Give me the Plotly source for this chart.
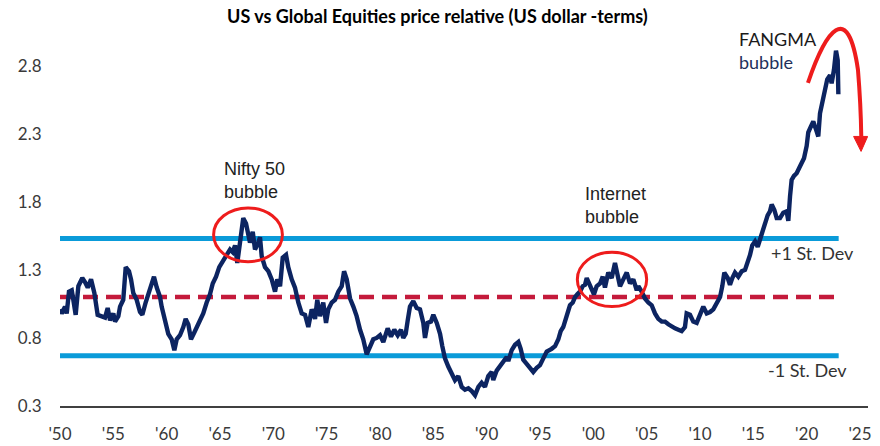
import plotly.graph_objects as go

# ---- data ----
years = [1950.00,1950.16,1950.47,1950.63,1950.84,1951.10,1951.25,1951.47,1951.72,1952.09,1952.34,1952.60,1952.91,
 1953.22,1953.53,1953.91,1954.22,1954.47,1954.69,1955.00,1955.16,1955.47,1955.63,1955.93,1956.09,1956.16,1956.47,
 1956.66,1956.87,1957.19,1957.50,1957.72,1958.03,1958.34,1958.60,1958.81,1959.07,1959.38,1959.53,1959.84,1960.15,
 1960.47,1960.72,1960.94,1961.25,1961.56,1961.78,1962.03,1962.28,1962.59,1962.97,1963.43,1963.75,1964.06,1964.32,
 1964.63,1964.93,1965.31,1965.63,1965.94,1966.19,1966.41,1966.62,1966.81,1967.03,1967.18,1967.44,1967.65,1967.81,
 1968.07,1968.28,1968.59,1968.75,1968.91,1969.22,1969.53,1969.85,1970.16,1970.37,1970.63,1970.88,1971.19,1971.40,
 1971.72,1972.03,1972.34,1972.66,1972.97,1973.28,1973.60,1973.91,1974.12,1974.38,1974.68,1974.94,1975.15,1975.47,
 1975.78,1976.09,1976.41,1976.63,1976.88,1977.19,1977.50,1977.81,1978.13,1978.43,1978.75,1979.06,1979.37,1979.69,
 1980.00,1980.31,1980.47,1980.72,1981.03,1981.34,1981.66,1981.97,1982.18,1982.41,1982.60,1982.81,1983.12,1983.44,
 1983.75,1984.06,1984.22,1984.47,1984.78,1985.00,1985.32,1985.63,1985.84,1986.09,1986.40,1986.72,1987.03,1987.34,
 1987.66,1987.97,1988.28,1988.60,1988.91,1989.22,1989.53,1989.84,1990.15,1990.47,1990.62,1990.94,1991.25,1991.56,
 1991.88,1992.03,1992.35,1992.66,1992.97,1993.19,1993.43,1993.75,1994.06,1994.37,1994.69,1995.00,1995.31,1995.63,
 1996.09,1996.41,1996.72,1996.94,1997.18,1997.44,1997.65,1997.81,1998.07,1998.28,1998.50,1998.75,1999.00,1999.22,
 1999.38,1999.62,1999.85,2000.06,2000.31,2000.63,2000.88,2001.09,2001.40,2001.72,2002.03,2002.34,2002.50,2002.81,
 2003.13,2003.44,2003.75,2004.07,2004.22,2004.53,2004.84,2005.15,2005.47,2005.78,2006.09,2006.41,2006.72,2007.03,
 2007.35,2007.66,2007.97,2008.28,2008.59,2008.75,2009.06,2009.37,2009.69,2010.00,2010.31,2010.63,2010.94,2011.25,
 2011.56,2011.88,2012.09,2012.28,2012.60,2012.81,2013.03,2013.28,2013.59,2013.91,2014.22,2014.47,2014.69,2014.90,
 2015.16,2015.41,2015.63,2015.88,2016.09,2016.34,2016.56,2016.72,2016.97,2017.19,2017.50,2017.81,2018.12,2018.28,
 2018.44,2018.59,2018.81,2019.06,2019.31,2019.53,2019.75,2020.00,2020.15,2020.38,2020.62,2020.88,2021.09,2021.25,
 2021.50,2021.72,2021.93,2022.19,2022.34,2022.56,2022.75,2022.91,2022.97]

relative = [1.01,0.98,1.03,0.98,1.14,1.15,1.08,0.97,1.18,1.24,1.21,1.17,1.23,
 1.13,0.97,0.96,0.95,1.02,0.93,0.98,0.92,0.96,1.03,1.08,1.20,1.32,1.29,
 1.23,1.13,1.08,0.99,0.97,1.06,1.13,1.18,1.25,1.17,1.10,1.03,0.91,0.83,
 0.79,0.71,0.79,0.82,0.88,0.94,0.90,0.79,0.84,0.91,0.98,1.06,1.12,1.20,
 1.25,1.32,1.37,1.42,1.45,1.43,1.48,1.35,1.47,1.58,1.68,1.64,1.57,1.50,
 1.58,1.45,1.50,1.54,1.40,1.32,1.29,1.23,1.14,1.23,1.18,1.39,1.41,1.32,
 1.23,1.17,1.06,0.98,0.97,0.88,1.01,0.94,1.08,0.96,1.06,0.91,1.01,1.06,
 1.08,1.14,1.18,1.29,1.23,1.09,1.03,0.96,0.86,0.79,0.68,0.74,0.79,0.80,
 0.82,0.77,0.81,0.87,0.81,0.86,0.82,0.86,0.80,0.83,0.93,1.03,1.07,1.02,
 1.01,0.91,0.80,0.91,0.92,0.97,0.91,0.83,0.74,0.65,0.59,0.54,0.49,0.52,
 0.44,0.42,0.43,0.41,0.38,0.44,0.47,0.44,0.52,0.55,0.49,0.56,0.59,0.63,
 0.66,0.63,0.71,0.75,0.77,0.72,0.64,0.61,0.58,0.55,0.58,0.60,0.65,0.70,
 0.72,0.74,0.79,0.85,0.88,0.94,0.99,1.04,1.06,1.10,1.12,1.14,1.18,1.19,
 1.24,1.20,1.15,1.12,1.18,1.20,1.25,1.17,1.28,1.24,1.35,1.24,1.18,1.23,
 1.28,1.20,1.23,1.15,1.18,1.14,1.09,1.06,1.04,0.98,0.94,0.92,0.92,0.90,
 0.88,0.87,0.86,0.85,0.88,0.98,0.97,0.92,0.91,0.97,1.03,0.98,0.99,1.01,
 1.06,1.10,1.18,1.28,1.24,1.19,1.24,1.28,1.25,1.29,1.30,1.35,1.41,1.48,
 1.51,1.47,1.53,1.59,1.64,1.70,1.73,1.78,1.74,1.68,1.68,1.72,1.73,1.66,
 1.84,1.96,1.99,2.01,2.05,2.08,2.12,2.21,2.31,2.35,2.39,2.33,2.28,2.45,
 2.55,2.64,2.70,2.73,2.67,2.77,2.91,2.84,2.59]

mean_level = 1.10
plus_1sd = 1.53
minus_1sd = 0.67
band_years = [1950, 2023]

tick_years = [1950, 1955, 1960, 1965, 1970, 1975, 1980, 1985, 1990, 1995, 2000, 2005, 2010, 2015, 2020, 2025]
tick_text = ["'50", "'55", "'60", "'65", "'70", "'75", "'80", "'85", "'90", "'95", "'00", "'05", "'10", "'15", "'20", "'25"]
y_ticks = [0.3, 0.8, 1.3, 1.8, 2.3, 2.8]

NAVY = "#0c2461"
BLUE = "#0a9bd9"
CRIMSON = "#c41a3b"
RED = "#ee1c1c"

fig = go.Figure()
fig.add_trace(go.Scatter(x=band_years, y=[plus_1sd] * 2, mode="lines",
                         line=dict(color=BLUE, width=5), hoverinfo="skip"))
fig.add_trace(go.Scatter(x=band_years, y=[minus_1sd] * 2, mode="lines",
                         line=dict(color=BLUE, width=5), hoverinfo="skip"))
fig.add_trace(go.Scatter(x=band_years, y=[mean_level] * 2, mode="lines",
                         line=dict(color=CRIMSON, width=4.5, dash="15px,8px"), hoverinfo="skip"))
fig.add_trace(go.Scatter(x=years, y=relative, mode="lines",
                         line=dict(color=NAVY, width=4.4)))

shapes = [
    dict(type="circle", xref="x", yref="y", x0=1964.4, x1=1970.85, y0=1.36, y1=1.755,
         line=dict(color=RED, width=3)),
    dict(type="circle", xref="x", yref="y", x0=1998.5, x1=2005.0, y0=1.03, y1=1.43,
         line=dict(color=RED, width=3)),
    dict(type="path", xref="x", yref="y",
         path="M 2020.12,2.674 C 2021.81,3.063 2023.87,3.284 2024.81,2.769 C 2025.0,2.586 2025.09,2.439 2025.12,2.28",
         line=dict(color=RED, width=4)),
    dict(type="path", xref="x", yref="y",
         path="M 2024.40,2.28 L 2025.72,2.28 L 2025.10,2.17 Z",
         fillcolor=RED, line=dict(color=RED, width=1)),
]

ann_font = dict(family="Liberation Sans, Arial", size=18, color="#222222")
lato = dict(family="Lato", size=18, color="#333333")
annotations = [
    dict(x=1965.15, y=1.956, xref="x", yref="y", text="Nifty 50<br>bubble", showarrow=False,
         xanchor="left", yanchor="middle", align="left", font=ann_font),
    dict(x=1999.0, y=1.773, xref="x", yref="y", text="Internet<br>bubble", showarrow=False,
         xanchor="left", yanchor="middle", align="left", font=ann_font),
    dict(x=2013.5, y=2.908, xref="x", yref="y", text="FANGMA<br><span style='color:#22305a'>bubble</span>",
         showarrow=False, xanchor="left", yanchor="middle", align="left",
         font=dict(family="Lato", size=18, color="#1a1a1a")),
    dict(x=2016.5, y=1.424, xref="x", yref="y", text="+1 St. Dev", showarrow=False,
         xanchor="left", yanchor="middle", font=lato),
    dict(x=2016.2, y=0.564, xref="x", yref="y", text="-1 St. Dev", showarrow=False,
         xanchor="left", yanchor="middle", font=lato),
]

fig.update_layout(
    width=880, height=446,
    margin=dict(l=60, r=12, t=18, b=40, autoexpand=False),
    paper_bgcolor="white", plot_bgcolor="white",
    showlegend=False,
    title=dict(text="<b>US vs Global Equities price relative (US dollar -terms)</b>",
               x=0.497, xref="container", xanchor="center",
               y=1 - 17 / 446, yref="container", yanchor="middle", automargin=False,
               font=dict(family="Lato", size=18, color="#000000")),
    shapes=shapes,
    annotations=annotations,
    xaxis=dict(range=[1950, 2025.75], tickvals=tick_years, ticktext=tick_text, automargin=False,
               showgrid=False, zeroline=False, showline=True, linecolor="#404040", linewidth=2,
               ticks="outside", ticklen=12, tickcolor="rgba(0,0,0,0)",
               tickfont=dict(family="Lato", size=17, color="#3a3a3a")),
    yaxis=dict(range=[0.3, 3.15], tickvals=y_ticks, ticktext=[f"{v:.1f}" for v in y_ticks],
               automargin=False,
               showgrid=False, zeroline=False, showline=False,
               ticks="outside", ticklen=14, tickcolor="rgba(0,0,0,0)",
               tickfont=dict(family="Lato", size=17, color="#3a3a3a")),
)

# remove the default page margin so the figure sits at the window's top-left corner
fig.write_html("out.html", config={"displayModeBar": False},
               post_script="document.body.style.margin='0';document.body.style.overflow='hidden';")
